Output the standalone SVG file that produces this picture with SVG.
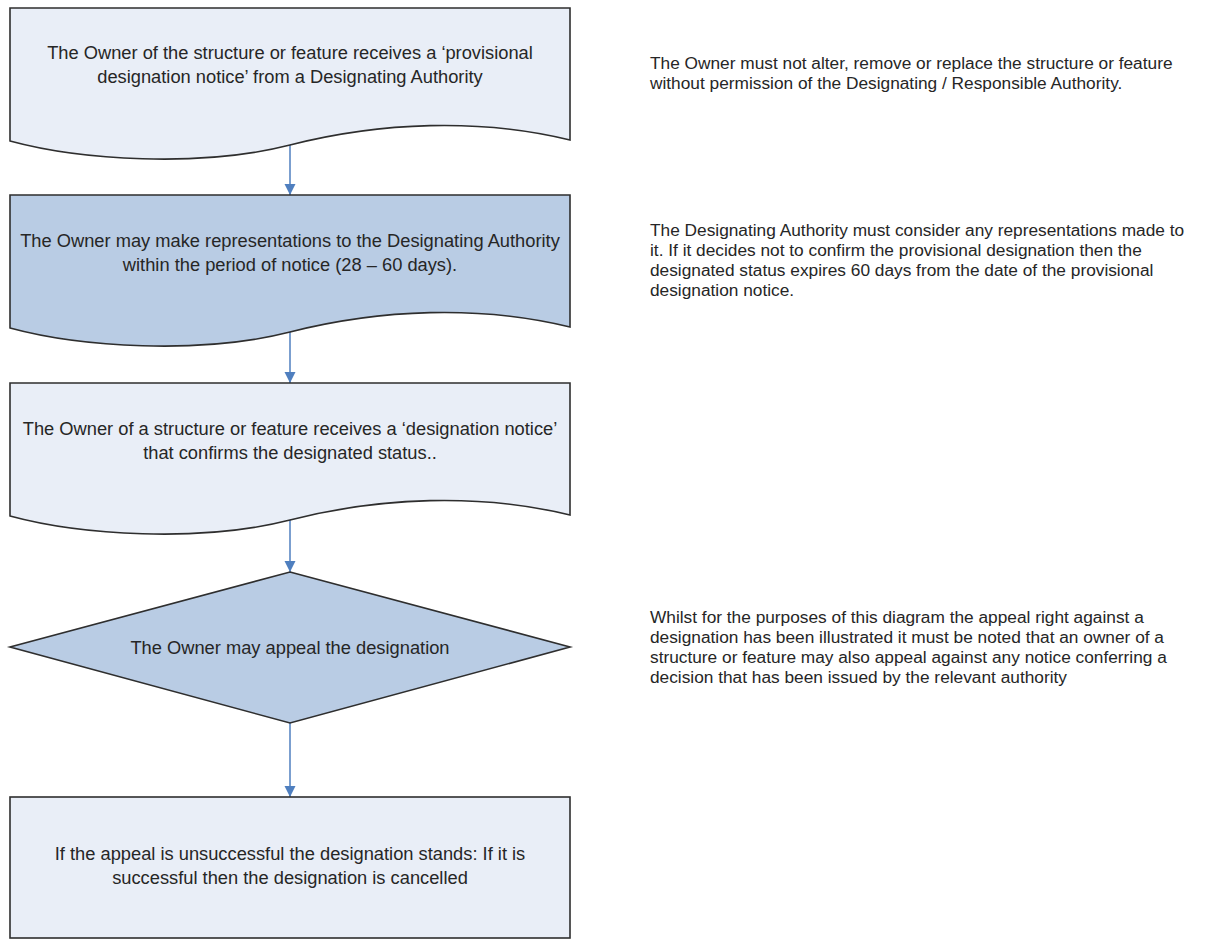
<svg xmlns="http://www.w3.org/2000/svg" width="1226" height="944" viewBox="0 0 1226 944">
<defs>
<style>
.light{fill:#e9eef7;stroke:#2e2e2e;stroke-width:1.6}
.dark{fill:#b9cce4;stroke:#2e2e2e;stroke-width:1.6}
.t{font-family:"Liberation Sans",Arial,sans-serif;font-size:18.3px;fill:#262626;text-anchor:middle}
.n{font-family:"Liberation Sans",Arial,sans-serif;font-size:17.3px;fill:#262626}
.c{stroke:#4f7fbf;stroke-width:1.5;fill:none;marker-end:url(#ah)}
</style>
<marker id="ah" viewBox="0 0 10 10" refX="10" refY="5" markerWidth="7.5" markerHeight="7.5" orient="auto" markerUnits="strokeWidth">
<path d="M0,0 L10,5 L0,10 z" fill="#4f7fbf"/>
</marker>
</defs>
<rect width="1226" height="944" fill="#ffffff"/>
<g id="connectors">
<line class="c" x1="290" y1="145" x2="290" y2="195"/>
<line class="c" x1="290" y1="332" x2="290" y2="383"/>
<line class="c" x1="290" y1="520" x2="290" y2="572"/>
<line class="c" x1="290" y1="723" x2="290" y2="797"/>
</g>
<g id="node1">
<path class="light" d="M10,8 H570 V140 C480,118 380,122 290,145 C200,168 80,160 10,141 Z"/>
<text class="t" x="290" y="59">The Owner of the structure or feature receives a ‘provisional</text>
<text class="t" x="290" y="83">designation notice’ from a Designating Authority</text>
</g>
<g id="node2">
<path class="dark" d="M10,195 H570 V327 C480,305 380,309 290,332 C200,355 80,347 10,328 Z"/>
<text class="t" x="290" y="247">The Owner may make representations to the Designating Authority</text>
<text class="t" x="290" y="271">within the period of notice (28 – 60 days).</text>
</g>
<g id="node3">
<path class="light" d="M10,383 H570 V515 C480,493 380,497 290,520 C200,543 80,535 10,516 Z"/>
<text class="t" x="290" y="435">The Owner of a structure or feature receives a ‘designation notice’</text>
<text class="t" x="290" y="459">that confirms the designated status..</text>
</g>
<g id="node4">
<polygon class="dark" points="290,572 570,647 290,723 10,647"/>
<text class="t" x="290" y="654">The Owner may appeal the designation</text>
</g>
<g id="node5">
<rect class="light" x="10" y="797" width="560" height="141"/>
<text class="t" x="290" y="860">If the appeal is unsuccessful the designation stands: If it is</text>
<text class="t" x="290" y="884">successful then the designation is cancelled</text>
</g>
<g id="note1">
<text class="n" x="650" y="69">The Owner must not alter, remove or replace the structure or feature</text>
<text class="n" x="650" y="89">without permission of the Designating / Responsible Authority.</text>
</g>
<g id="note2">
<text class="n" x="650" y="236">The Designating Authority must consider any representations made to</text>
<text class="n" x="650" y="256">it.  If it decides not to confirm the provisional designation then the</text>
<text class="n" x="650" y="276">designated status expires 60 days from the date of the provisional</text>
<text class="n" x="650" y="296">designation notice.</text>
</g>
<g id="note3">
<text class="n" x="650" y="623">Whilst for the purposes of this diagram the appeal right against a</text>
<text class="n" x="650" y="643">designation has been illustrated it must be noted that an owner of a</text>
<text class="n" x="650" y="663">structure or feature may also appeal against any notice conferring a</text>
<text class="n" x="650" y="683">decision that has been issued by the relevant authority</text>
</g>
</svg>
